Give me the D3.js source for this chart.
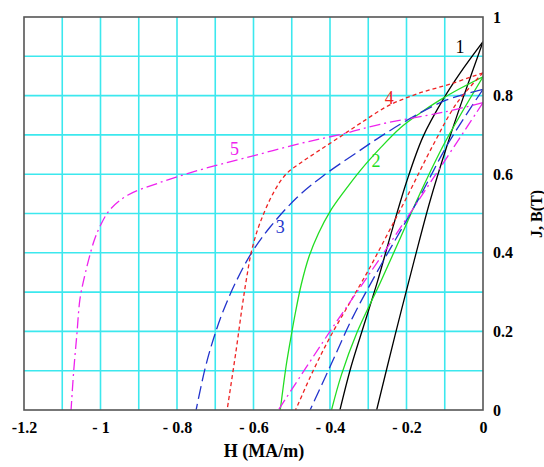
<!DOCTYPE html>
<html>
<head>
<meta charset="utf-8">
<script src="https://cdn.jsdelivr.net/npm/d3@7"></script>
<style>
  html, body { margin: 0; padding: 0; background: #fff; }
  svg { display: block; }
  svg text { font-family: "Liberation Serif", "Times New Roman", Times, "DejaVu Serif", "Noto Serif", serif; }
</style>
</head>
<body>
<svg id="chart" width="544" height="467"></svg>
<script>
// Demagnetization curves: H (MA/m) vs J, B (T)
const xTickValues = [-1.2, -1, -0.8, -0.6, -0.4, -0.2, 0];
const xTickLabels = ["-1.2", "- 1", "- 0.8", "- 0.6", "- 0.4", "- 0.2", "0"];
const yTickValues = [0, 0.2, 0.4, 0.6, 0.8, 1];
const yTickLabels = ["0", "0.2", "0.4", "0.6", "0.8", "1"];
const curveNames = ["1", "2", "3", "4", "5"];

// Each curve: [H, J or B] pairs
const curve1J = [[0, 0.937], [-0.06, 0.857], [-0.105, 0.789], [-0.157, 0.695], [-0.2, 0.58], [-0.24, 0.45], [-0.275, 0.33], [-0.31, 0.22], [-0.345, 0.11], [-0.374, 0]];
const curve1B = [[0, 0.937], [-0.05, 0.8], [-0.095, 0.67], [-0.139, 0.53], [-0.18, 0.38], [-0.23, 0.19], [-0.278, 0]];
const curve2J = [[0, 0.848], [-0.06, 0.818], [-0.112, 0.789], [-0.165, 0.755], [-0.217, 0.717], [-0.27, 0.665], [-0.322, 0.608], [-0.36, 0.56], [-0.4, 0.505], [-0.43, 0.45], [-0.455, 0.39], [-0.475, 0.32], [-0.49, 0.25], [-0.503, 0.18], [-0.515, 0.11], [-0.53, 0]];
const curve2B = [[0, 0.848], [-0.1, 0.68], [-0.165, 0.55], [-0.215, 0.44], [-0.269, 0.323], [-0.33, 0.196], [-0.37, 0.09], [-0.396, 0]];
const curve3J = [[0, 0.816], [-0.095, 0.789], [-0.183, 0.746], [-0.269, 0.695], [-0.315, 0.665], [-0.419, 0.595], [-0.487, 0.54], [-0.557, 0.465], [-0.605, 0.4], [-0.646, 0.326], [-0.68, 0.25], [-0.705, 0.18], [-0.727, 0.104], [-0.75, 0]];
const curve3B = [[0, 0.816], [-0.09, 0.68], [-0.17, 0.534], [-0.269, 0.365], [-0.34, 0.237], [-0.4, 0.11], [-0.452, 0]];
const curve4J = [[0, 0.858], [-0.084, 0.83], [-0.17, 0.805], [-0.246, 0.775], [-0.32, 0.73], [-0.374, 0.695], [-0.429, 0.66], [-0.478, 0.628], [-0.515, 0.6], [-0.546, 0.556], [-0.583, 0.476], [-0.605, 0.405], [-0.619, 0.33], [-0.63, 0.26], [-0.646, 0.148], [-0.669, 0]];
const curve4B = [[0, 0.858], [-0.069, 0.78], [-0.13, 0.675], [-0.2, 0.54], [-0.251, 0.445], [-0.3, 0.355], [-0.35, 0.27], [-0.4, 0.185], [-0.444, 0.1], [-0.49, 0]];
const curve5J = [[0, 0.782], [-0.102, 0.758], [-0.269, 0.727], [-0.356, 0.705], [-0.478, 0.678], [-0.627, 0.64], [-0.74, 0.611], [-0.85, 0.577], [-0.928, 0.547], [-0.975, 0.51], [-1.0, 0.47], [-1.017, 0.43], [-1.045, 0.326], [-1.054, 0.28], [-1.062, 0.19], [-1.07, 0.1], [-1.077, 0]];
const curve5B = [[0, 0.782], [-0.13, 0.59], [-0.27, 0.385], [-0.4, 0.2], [-0.535, 0]];

const colors = ["#000000", "#22dd22", "#2233cc", "#ee2222", "#ee22ee"];
const dashes = [null, null, "13,5", "4,3", "11,4,2,4"];
const curveLabelPos = [[-0.06, 0.92], [-0.28, 0.63], [-0.53, 0.46], [-0.245, 0.79], [-0.65, 0.66]];

const svg = d3.select("#chart");
const margin = { left: 24, right: 61, top: 17, bottom: 57 };
const W = 544, H = 467;
const iw = W - margin.left - margin.right;
const ih = H - margin.top - margin.bottom;

const x = d3.scaleLinear().domain([-1.2, 0]).range([margin.left, margin.left + iw]);
const y = d3.scaleLinear().domain([0, 1]).range([margin.top + ih, margin.top]);

// grid
const gridX = d3.range(-1.1, 0, 0.1).map(v => +v.toFixed(2));
const gridY = d3.range(0.1, 1, 0.1).map(v => +v.toFixed(2));
const grid = svg.append("g");
grid.selectAll("line.gx").data(gridX).join("line")
  .attr("x1", d => x(d)).attr("x2", d => x(d))
  .attr("y1", y(0)).attr("y2", y(1))
  .attr("stroke", "#3ce8ee").attr("stroke-width", 1.6);
grid.selectAll("line.gy").data(gridY).join("line")
  .attr("x1", x(-1.2)).attr("x2", x(0))
  .attr("y1", d => y(d)).attr("y2", d => y(d))
  .attr("stroke", "#3ce8ee").attr("stroke-width", 1.6);

// curves
const line = d3.line()
  .x(d => x(d[0])).y(d => y(d[1]))
  .curve(d3.curveCatmullRom.alpha(0.5));
const allCurves = [
  [curve1J, 0], [curve1B, 0],
  [curve2J, 1], [curve2B, 1],
  [curve3J, 2], [curve3B, 2],
  [curve4J, 3], [curve4B, 3],
  [curve5J, 4], [curve5B, 4]
];
svg.append("clipPath").attr("id", "plotclip")
  .append("rect").attr("x", x(-1.2)).attr("y", y(1)).attr("width", iw).attr("height", ih);
const curvesG = svg.append("g").attr("clip-path", "url(#plotclip)");
curvesG.selectAll("path").data(allCurves).join("path")
  .attr("d", d => line(d[0]))
  .attr("fill", "none")
  .attr("stroke", d => colors[d[1]])
  .attr("stroke-width", 1.3)
  .attr("stroke-dasharray", d => dashes[d[1]]);

// frame
svg.append("rect")
  .attr("x", x(-1.2)).attr("y", y(1))
  .attr("width", iw).attr("height", ih)
  .attr("fill", "none").attr("stroke", "#555").attr("stroke-width", 1.6);

// x axis labels
const xAxis = d3.axisBottom(x).tickValues(xTickValues)
  .tickFormat((d, i) => xTickLabels[i]).tickSize(0).tickPadding(12);
const gx = svg.append("g").attr("transform", `translate(0,${y(0)})`).call(xAxis)
  .attr("font-family", null);
gx.select(".domain").remove();
gx.selectAll("text").attr("font-size", 16)
  .attr("font-weight", "bold").attr("fill", "#000");

// y axis labels on the right
const yAxis = d3.axisRight(y).tickValues(yTickValues)
  .tickFormat((d, i) => yTickLabels[i]).tickSize(0).tickPadding(10);
const gy = svg.append("g").attr("transform", `translate(${x(0)},0)`).call(yAxis)
  .attr("font-family", null);
gy.select(".domain").remove();
gy.selectAll("text").attr("font-size", 16)
  .attr("font-weight", "bold").attr("fill", "#000");

// axis titles
svg.append("text")
  .attr("x", 264).attr("y", 457)
  .attr("text-anchor", "middle")
  .attr("font-size", 18).attr("font-weight", "bold")
  .text("H (MA/m)");
svg.append("text")
  .attr("transform", "translate(542,214) rotate(-90)")
  .attr("text-anchor", "middle")
  .attr("font-size", 16).attr("font-weight", "bold")
  .text("J, B(T)");

// curve numbers
svg.append("g").selectAll("text").data(curveNames).join("text")
  .attr("x", (d, i) => x(curveLabelPos[i][0]))
  .attr("y", (d, i) => y(curveLabelPos[i][1]))
  .attr("text-anchor", "middle")
  .attr("dominant-baseline", "middle")
  .attr("font-size", 18)
  .attr("fill", (d, i) => colors[i])
  .text(d => d);
</script>
</body>
</html>
